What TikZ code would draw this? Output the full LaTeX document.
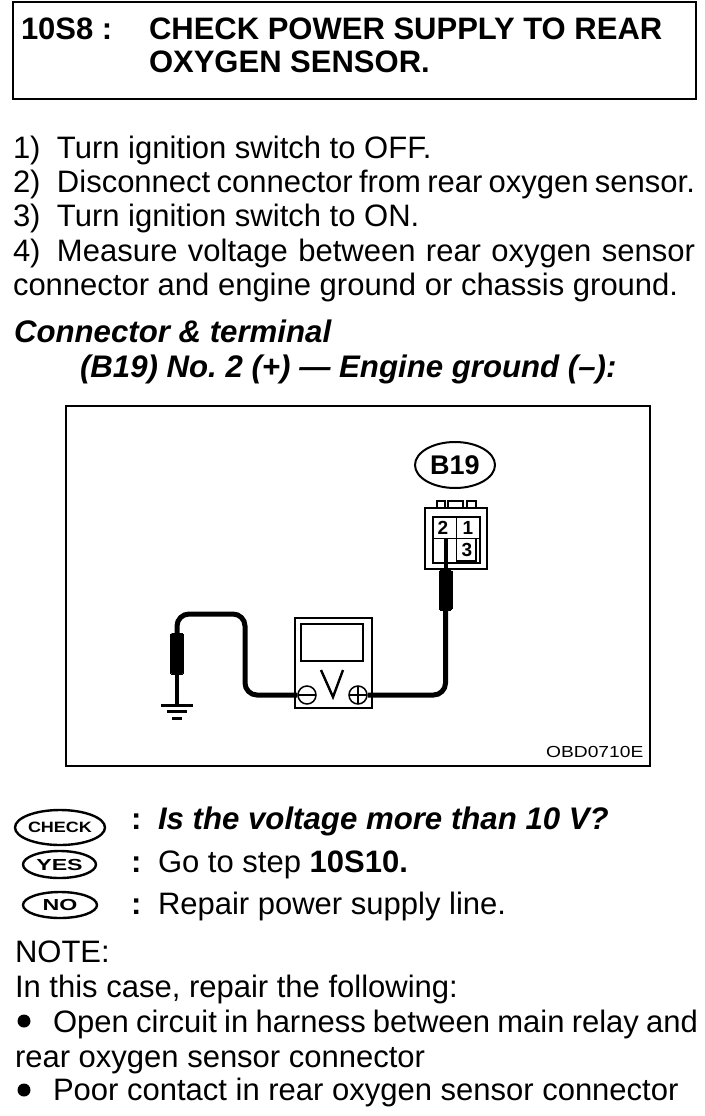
\documentclass[tikz,border=0pt]{standalone}
\usepackage{fontspec}
\setmainfont{Liberation Sans}
\usetikzlibrary{shapes.geometric}
\frenchspacing
\tikzset{
  txt/.style={anchor=base west,inner sep=0pt,outer sep=0pt,font=\fontsize{31}{31}\selectfont},
  ttl/.style={anchor=base west,inner sep=0pt,outer sep=0pt,font=\fontsize{31}{31}\selectfont\bfseries},
  bi/.style={anchor=base west,inner sep=0pt,outer sep=0pt,font=\fontsize{31.2}{31.2}\selectfont\bfseries\itshape},
  frame/.style={draw,line width=2.4pt},
  wire/.style={draw,line width=5pt,rounded corners=12pt},
  thinw/.style={draw,line width=4pt},
  probe/.style={fill=black,draw=black,rounded corners=1.5pt,line width=0pt},
  part/.style={draw,line width=1.6pt},
  oval/.style={draw,ellipse,line width=2pt,inner sep=0pt,outer sep=0pt},
  bul/.style={circle,fill=black,inner sep=0pt,minimum size=13pt},
  term/.style={draw,circle,line width=1.5pt,minimum size=18pt,inner sep=0pt},
  num/.style={inner sep=0pt,font=\fontsize{19}{19}\selectfont\bfseries}
}
\newcommand{\stepno}[1]{\makebox[44pt][l]{#1}}
\newcommand{\wide}[3]{\makebox[0pt]{\scalebox{#1}[1]{\fontsize{#2}{#2}\selectfont\bfseries #3}}}
\begin{document}
\begin{tikzpicture}[x=1pt,y=-1pt]
\useasboundingbox[fill=white] (0,0) rectangle (704,1116);
% title
\node[frame,inner sep=0pt,anchor=north west,minimum width=683pt,minimum height=97pt] (titlebox) at (11.5,1) {};
\node[ttl] (t1) at (21,40) {10S8 :};
\node[ttl] (t2) at (149,40) {CHECK POWER SUPPLY TO REAR};
\node[ttl] (t3) at (149,73) {OXYGEN SENSOR.};
% steps
\node[txt] (s1) at (13,158) {\stepno{1)}Turn ignition switch to OFF.};
\node[txt] (s2) at (13,192) {\stepno{2)}\makebox[638pt][s]{Disconnect connector from rear oxygen sensor.}};
\node[txt] (s3) at (13,226) {\stepno{3)}Turn ignition switch to ON.};
\node[txt] (s4) at (13,261) {\stepno{4)}\makebox[638pt][s]{Measure voltage between rear oxygen sensor}};
\node[txt] (s5) at (13,295) {connector and engine ground or chassis ground.};
\node[bi] (c1) at (14,342) {Connector \& terminal};
\node[bi] (c2) at (80,377) {(B19) No. 2 (+) — Engine ground (–):};
% diagram
\node[draw,line width=2pt,inner sep=0pt,anchor=north west,minimum width=584pt,minimum height=360pt] (dia) at (65,405) {};
\node[oval,minimum width=80pt,minimum height=46pt] (b19) at (455,465) {\fontsize{27}{27}\selectfont\bfseries B19};
% connector
\draw[part] (425,508) rectangle (487,569);
\draw[part] (433,517) rectangle (480,563);
\draw[part] (456.5,517) -- (456.5,563);
\draw[part] (433,538.5) -- (480,538.5);
\draw[part] (476,538.5) -- (476,561) -- (456.5,561);
\draw[part] (437,508) -- (437,501) -- (445,501) -- (445,508);
\draw[part] (448,508) -- (448,501) -- (463,501) -- (463,508);
\draw[part] (467,508) -- (467,501) -- (476,501) -- (476,508);
\node[num] (n2) at (443,528) {2};
\node[num] (n1) at (468,528) {1};
\node[num] (n3) at (467,550) {3};
% meter
\node[draw,line width=1.5pt,inner sep=0pt,anchor=north west,minimum width=77pt,minimum height=90pt] (meter) at (294,617) {};
\draw[line width=2.4pt] (301,624) rectangle (363,661);
\draw[line width=2.4pt] (321,670) -- (333,697) -- (343,670);
\node[term] (minus) at (307,695) {};
\node[term] (plus) at (358,695) {};
\draw[line width=2pt] (299,695) -- (315,695);
\draw[line width=2pt] (350,695) -- (366,695) (358,687) -- (358,703);
% probes
\node[probe,minimum width=13pt,minimum height=41pt,inner sep=0pt] (pl) at (177,653.5) {};
\node[probe,minimum width=13pt,minimum height=40pt,inner sep=0pt] (pr) at (445.5,590) {};
\coordinate (gnd) at (177,705);
\coordinate (sock) at (445.5,538);
% wires
\draw[wire] (minus.west) -- (245,695) -- (245,614) -- (177,614) -- (pl.north);
\draw[wire] (plus.east) -- (445.5,695) -- (pr.south);
\draw[thinw] (pl.south) -- (gnd);
\draw[thinw] (pr.north) -- (sock);
% ground
\draw[line width=3pt] (161,705) -- (193,705);
\draw[line width=3pt] (167,711.5) -- (187,711.5);
\draw[line width=3pt] (172,718) -- (182,718);
\node[anchor=base west,inner sep=0pt] (code) at (546,757) {\scalebox{1.2}[1]{\fontsize{16}{16}\selectfont OBD0710E}};
% answers
\node[oval,minimum width=90pt,minimum height=35pt,line width=2.4pt] (chk) at (60,827.5) {\wide{1.2}{15}{CHECK}};
\node[oval,minimum width=73pt,minimum height=27pt,line width=2.4pt] (yes) at (59.5,864.5) {\wide{1.45}{16}{YES}};
\node[oval,minimum width=74pt,minimum height=26pt,line width=2.4pt] (no) at (60,905) {\wide{1.45}{16}{NO}};
\node[ttl] (k1) at (131,829) {:};
\node[ttl] (k2) at (131,872) {:};
\node[ttl] (k3) at (131,914) {:};
\node[bi] (a1) at (158,829) {Is the voltage more than 10 V?};
\node[txt] (a2) at (158,872) {Go to step \textbf{10S10.}};
\node[txt] (a3) at (158,914) {Repair power supply line.};
% note
\node[txt] (n0) at (15,962) {NOTE:};
\node[txt] (n4) at (15,997) {In this case, repair the following:};
\node[bul] (bu1) at (24,1021) {};
\node[txt] (n5) at (53,1032) {\makebox[645pt][s]{Open circuit in harness between main relay and}};
\node[txt] (n6) at (15,1067) {rear oxygen sensor connector};
\node[bul] (bu2) at (24,1090) {};
\node[txt] (n7) at (53,1100) {Poor contact in rear oxygen sensor connector};
\end{tikzpicture}
\end{document}
